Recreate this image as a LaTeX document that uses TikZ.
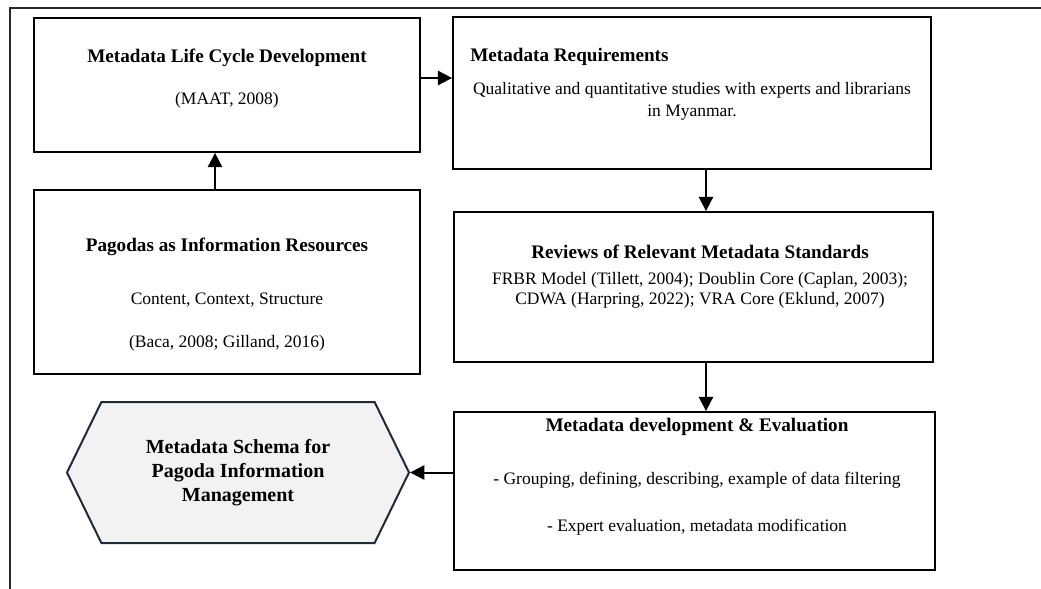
\documentclass[tikz,border=0pt]{standalone}
\usepackage{fontspec}
\setmainfont{Liberation Serif}
\usetikzlibrary{positioning,arrows.meta,calc,shapes.symbols}

\definecolor{framenavy}{HTML}{1F2A3A}
\definecolor{hexfill}{HTML}{F2F2F2}

\begin{document}
\begin{tikzpicture}[x=0.6pt,y=-0.6pt,
  box/.style={draw=black, line width=1.1pt, inner sep=0pt},
  ttl/.style={font=\fontsize{11.5}{14}\selectfont\bfseries, inner sep=0pt},
  txt/.style={font=\fontsize{10.5}{13.2}\selectfont, inner sep=0pt, align=center},
  arr/.style={-{Triangle[length=8.5pt,width=8.5pt]}, line width=1.2pt},
  hexbox/.style={shape=signal, signal to=west and east, signal pointer angle=128,
    draw=framenavy, fill=hexfill, line width=1.2pt, inner sep=0pt,
    minimum width=205.2pt, minimum height=84.6pt, align=center,
    font=\fontsize{12}{14.4}\selectfont\bfseries}]
\useasboundingbox (0,0) rectangle (1041,589);
% outer frame, cut off at right and bottom
\draw[framenavy, line width=1.3pt] (1041,8) -- (10,8) -- (10,589);

% boxes (1 unit = 1 px of the 1041x589 sheet)
\node[box, minimum width=231.6pt, minimum height=80.4pt] (life) at (227,85) {};
\node[box, minimum width=286.8pt, minimum height=91.2pt] (req) at (692,93) {};
\node[box, minimum width=231.6pt, minimum height=110.4pt] (pag) at (227,282) {};
\node[box, minimum width=287.4pt, minimum height=90pt] (rev) at (693.5,287) {};
\node[box, minimum width=288.6pt, minimum height=94.8pt] (dev) at (694.5,491) {};
\node[hexbox] (hex) at (238,472.5) {Metadata Schema for\\ Pagoda Information\\ Management};

% texts
\node[ttl] (lifeT) at (227,58) {Metadata Life Cycle Development};
\node[txt] (lifeS) at (227,100) {(MAAT, 2008)};
\node[ttl, anchor=west] (reqT) at (470,57) {Metadata Requirements};
\node[txt] (reqS) at (692,101) {Qualitative and quantitative studies with experts and librarians\\ in Myanmar.};
\node[ttl] (pagT) at (227,247) {Pagodas as Information Resources};
\node[txt] (pagS) at (227,300) {Content, Context, Structure};
\node[txt] (pagR) at (227,343) {(Baca, 2008; Gilland, 2016)};
\node[ttl] (revT) at (700,252) {Reviews of Relevant Metadata Standards};
\node[txt, font=\fontsize{10.5}{12}\selectfont] (revS) at (700,290) {FRBR Model (Tillett, 2004); Doublin Core (Caplan, 2003);\\ CDWA (Harpring, 2022); VRA Core (Eklund, 2007)};
\node[ttl] (devT) at (697,427) {Metadata development \& Evaluation};
\node[txt] (devA) at (697,480) {- Grouping, defining, describing, example of data filtering};
\node[txt] (devB) at (697,527) {- Expert evaluation, metadata modification};

% connectors
\coordinate (lifeOut) at ([yshift=4.2pt]life.east);
\draw[arr] (lifeOut) -- (lifeOut -| req.west);
\coordinate (pagOut) at ([xshift=-7.2pt]pag.north);
\draw[arr] (pagOut) -- (pagOut |- life.south);
\coordinate (reqOut) at ([xshift=8.4pt]req.south);
\draw[arr] (reqOut) -- (reqOut |- rev.north);
\coordinate (revOut) at ([xshift=7.5pt]rev.south);
\draw[arr] (revOut) -- (revOut |- dev.north);
\draw[arr] (dev.west |- hex.east) -- (hex.east);
\end{tikzpicture}
\end{document}
